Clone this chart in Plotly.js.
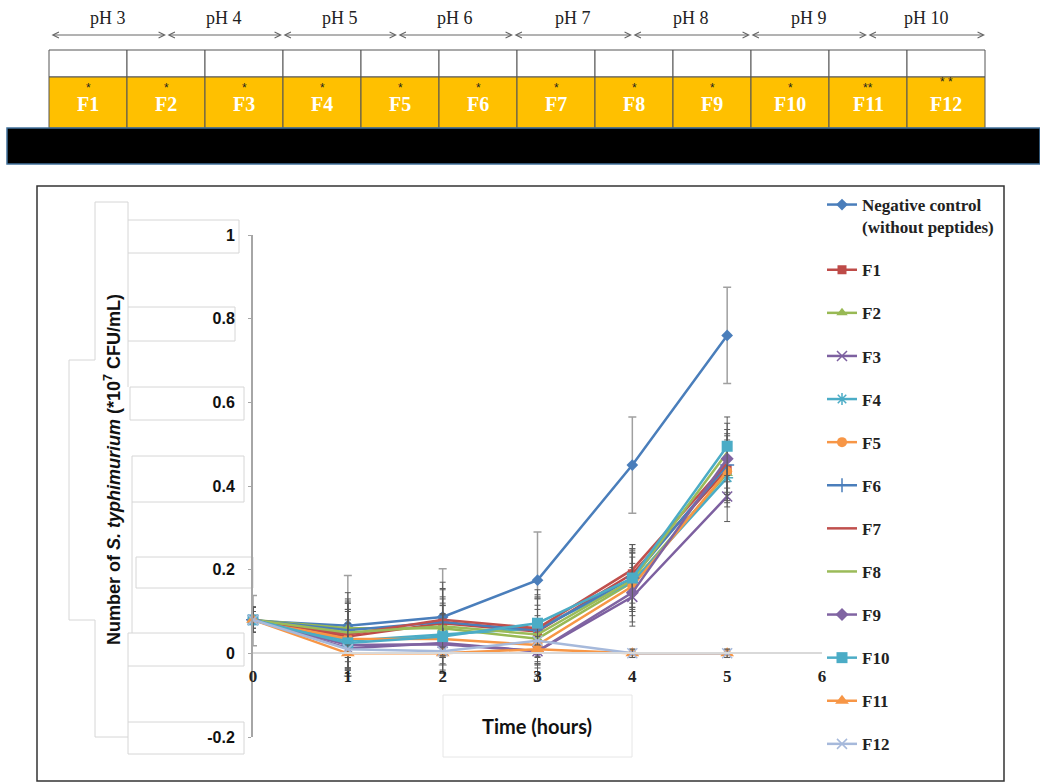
<!DOCTYPE html>
<html>
<head>
<meta charset="utf-8">
<script src="https://cdn.plot.ly/plotly-3.0.1.min.js"></script>
<style>
  html, body { margin: 0; padding: 0; background: #fff; }
  #chart { width: 1040px; height: 783px; }
</style>
</head>
<body>
<div id="chart"></div>
<script>
// ---- Data ----
const hours = [0, 1, 2, 3, 4, 5];

const negControl = [0.078, 0.066, 0.087, 0.175, 0.45, 0.76];
const f1  = [0.08, 0.04, 0.072, 0.052, 0.19, 0.44];
const f2  = [0.08, 0.06, 0.06, 0.035, 0.17, 0.43];
const f3  = [0.08, 0.012, 0.025, 0.005, 0.135, 0.375];
const f4  = [0.08, 0.03, 0.045, 0.06, 0.17, 0.42];
const f5  = [0.08, 0.035, 0.034, 0.02, 0.16, 0.435];
const f6  = [0.08, 0.055, 0.075, 0.055, 0.18, 0.45];
const f7  = [0.08, 0.045, 0.08, 0.06, 0.2, 0.455];
const f8  = [0.08, 0.05, 0.065, 0.045, 0.175, 0.48];
const f9  = [0.08, 0.02, 0.022, 0.005, 0.145, 0.465];
const f10 = [0.08, 0.025, 0.04, 0.072, 0.18, 0.495];
const f11 = [0.08, 0.0, 0.0, 0.01, 0.0, 0.0];
const f12 = [0.08, 0.01, 0.005, 0.03, 0.0, 0.0];

const negControlErr = [0.06, 0.12, 0.115, 0.115, 0.115, 0.115];
const f1Err  = [0.03, 0.08, 0.08, 0.08, 0.07, 0.07];
const f2Err  = [0.03, 0.07, 0.07, 0.07, 0.07, 0.07];
const f3Err  = [0.03, 0.06, 0.07, 0.07, 0.07, 0.06];
const f4Err  = [0.03, 0.07, 0.07, 0.07, 0.07, 0.07];
const f5Err  = [0.03, 0.07, 0.08, 0.07, 0.07, 0.07];
const f6Err  = [0.03, 0.09, 0.08, 0.08, 0.07, 0.07];
const f7Err  = [0.03, 0.08, 0.09, 0.08, 0.06, 0.07];
const f8Err  = [0.03, 0.07, 0.07, 0.07, 0.07, 0.07];
const f9Err  = [0.03, 0.06, 0.07, 0.06, 0.07, 0.07];
const f10Err = [0.03, 0.08, 0.08, 0.08, 0.07, 0.07];
const f11Err = [0.02, 0.01, 0.01, 0.01, 0.01, 0.01];
const f12Err = [0.02, 0.01, 0.01, 0.01, 0.01, 0.01];

const seriesNames = ['Negative control<br>(without peptides)', 'F1', 'F2', 'F3', 'F4', 'F5',
                     'F6', 'F7', 'F8', 'F9', 'F10', 'F11', 'F12'];
const seriesValues = [negControl, f1, f2, f3, f4, f5, f6, f7, f8, f9, f10, f11, f12];
const seriesErrors = [negControlErr, f1Err, f2Err, f3Err, f4Err, f5Err, f6Err, f7Err, f8Err,
                      f9Err, f10Err, f11Err, f12Err];

const yTickVals = [-0.2, 0, 0.2, 0.4, 0.6, 0.8, 1];
const yTickText = ['-0.2', '0', '0.2', '0.4', '0.6', '0.8', '1'];
const xTickVals = [0, 1, 2, 3, 4, 5, 6];

// Fraction strip above the chart
const phLabels = ['pH 3', 'pH 4', 'pH 5', 'pH 6', 'pH 7', 'pH 8', 'pH 9', 'pH 10'];
const fractionLabels = ['F1', 'F2', 'F3', 'F4', 'F5', 'F6', 'F7', 'F8', 'F9', 'F10', 'F11', 'F12'];
const fractionMarks = ['*', '*', '*', '*', '*', '*', '*', '*', '*', '*', '**', '* *'];

// ---- Styles ----
const styles = [
  { color: '#4A7EBB', symbol: 'diamond', size: 9 },
  { color: '#BE4B48', symbol: 'square', size: 9 },
  { color: '#98B954', symbol: 'triangle-up', size: 10 },
  { color: '#7D60A0', symbol: 'x-thin', size: 10 },
  { color: '#4BACC6', symbol: 'asterisk', size: 10 },
  { color: '#F79646', symbol: 'circle', size: 10 },
  { color: '#4A7EBB', symbol: 'cross-thin', size: 10 },
  { color: '#C0504D', symbol: null },
  { color: '#9BBB59', symbol: null },
  { color: '#8064A2', symbol: 'diamond', size: 10 },
  { color: '#4BACC6', symbol: 'square', size: 11 },
  { color: '#F79646', symbol: 'triangle-up', size: 12 },
  { color: '#A6B9DB', symbol: 'x-thin', size: 10 }
];

const W = 1040, H = 783;
const px = x => x / W;
const py = y => 1 - y / H;

const serif = 'Liberation Serif, Times New Roman, serif';
const sans = 'Liberation Sans, Arial, sans-serif';

// ---- Traces ----
const traces = seriesValues.map((vals, i) => {
  const s = styles[i];
  const t = {
    type: 'scatter',
    x: hours,
    y: vals,
    name: seriesNames[i],
    legendgroup: 'g' + i,
    mode: s.symbol ? 'lines+markers' : 'lines',
    line: { color: s.color, width: 2.5 },
    error_y: {
      type: 'data', array: seriesErrors[i], visible: true,
      color: i === 0 ? '#a0a0a0' : '#5a5a5a',
      thickness: i === 0 ? 1.5 : 1, width: i === 0 ? 4 : 3
    },
    cliponaxis: false
  };
  if (s.symbol) {
    const thin = s.symbol.indexOf('thin') >= 0 || s.symbol === 'asterisk';
    t.marker = {
      symbol: s.symbol, size: s.size, color: s.color,
      line: { color: s.color, width: thin ? 1.5 : 0 }
    };
  }
  return t;
});

// ---- Shapes & annotations ----
const shapes = [];
const annotations = [];
const rectPx = (x0, y0, x1, y1, opts) => Object.assign({
  type: 'rect', xref: 'paper', yref: 'paper',
  x0: px(x0), x1: px(x1), y0: py(y1), y1: py(y0)
}, opts);
const pathPx = (pts, opts) => Object.assign({
  type: 'path', xref: 'paper', yref: 'paper',
  path: pts.map((p, k) => (k ? 'L' : 'M') + px(p[0]) + ',' + py(p[1])).join(' ')
}, opts);
const label = (x, y, text, font, extra) => Object.assign({
  xref: 'paper', yref: 'paper', x: px(x), y: py(y), text: text, showarrow: false,
  xanchor: 'center', yanchor: 'middle', font: font
}, extra || {});

// pH ranges with double-headed arrows
const phEdges = [50, 166, 282, 397, 513, 632, 750, 867, 985];
phLabels.forEach((lab, i) => {
  const a = phEdges[i], b = phEdges[i + 1];
  annotations.push(label((a + b) / 2, 18, lab, { family: serif, size: 18, color: '#222' }));
  annotations.push({
    xref: 'paper', yref: 'paper', x: px(b), y: py(35),
    ax: -(b - a), ay: 0, text: '', showarrow: true,
    arrowside: 'end+start', arrowhead: 5, startarrowhead: 5,
    arrowsize: 1.2, startarrowsize: 1.2, arrowwidth: 1, arrowcolor: '#666',
    standoff: 0, startstandoff: 0
  });
});

// Fraction boxes
const colX0 = 49, colW = 78;
fractionLabels.forEach((lab, i) => {
  const x0 = colX0 + i * colW, x1 = x0 + colW;
  shapes.push(rectPx(x0, 50, x1, 77, { fillcolor: '#ffffff', line: { color: '#555', width: 1 } }));
  shapes.push(rectPx(x0, 77, x1, 128, { fillcolor: '#FFC000', line: { color: '#555', width: 1 } }));
  annotations.push(label(x0 + colW / 2, 104, '<b>' + lab + '</b>',
    { family: serif, size: 20, color: '#ffffff' }));
  annotations.push(label(x0 + colW / 2, i === 11 ? 82 : 88, fractionMarks[i],
    { family: sans, size: 12, color: '#222' }));
});

// Black band
shapes.push(rectPx(7, 128, 1040, 164, { fillcolor: '#000000', line: { color: '#41719C', width: 1.5 } }));

// Chart frame
shapes.push(rectPx(37, 186, 1004, 781, { line: { color: '#333', width: 1.5 }, layer: 'below' }));

// Boxes behind the y-axis labels
const boxLine = { color: '#d6d6d6', width: 1 };
[[128, 220, 239, 253], [128, 307, 235, 341], [130, 387, 244, 420], [132, 456, 244, 502],
 [136, 557, 253, 588], [128, 633, 244, 666], [128, 722, 244, 754]].forEach(b => {
  shapes.push(rectPx(b[0], b[1], b[2], b[3], { fillcolor: '#ffffff', line: boxLine, layer: 'below' }));
});
shapes.push(pathPx([[128, 220], [128, 202], [95, 202], [95, 360], [69, 360], [69, 620], [95, 620],
                    [95, 737], [128, 737]], { line: boxLine, layer: 'below' }));
shapes.push(pathPx([[128, 253], [128, 307]], { line: boxLine, layer: 'below' }));
shapes.push(pathPx([[128, 341], [128, 387]], { line: boxLine, layer: 'below' }));
shapes.push(pathPx([[132, 502], [132, 633]], { line: boxLine, layer: 'below' }));
shapes.push(pathPx([[128, 666], [128, 722]], { line: boxLine, layer: 'below' }));

// Box behind the x-axis title
shapes.push(rectPx(443, 695, 632, 757, { fillcolor: '#ffffff', line: { color: '#e6e6e6', width: 1 }, layer: 'below' }));

annotations.push(label(537, 726, '<b>Time (hours)</b>',
  { family: 'Lato, Open Sans, sans-serif', size: 20, color: '#111' }));
annotations.push(label(112, 470, '<b>Number of <i>S. typhimurium</i> (*10<sup>7</sup> CFU/mL)</b>',
  { family: sans, size: 18, color: '#111' }, { textangle: -90 }));

const layout = {
  width: W, height: H,
  margin: { l: 0, r: 0, t: 0, b: 0, autoexpand: false },
  paper_bgcolor: '#ffffff', plot_bgcolor: 'rgba(0,0,0,0)',
  showlegend: true,
  legend: {
    x: px(822), xanchor: 'left', y: py(187), yanchor: 'top',
    traceorder: 'grouped', tracegroupgap: 18, valign: 'top',
    bgcolor: 'rgba(0,0,0,0)', borderwidth: 0,
    font: { family: serif, size: 17, color: '#222', weight: 700 }
  },
  xaxis: {
    domain: [px(253), px(822)], range: [0, 6],
    anchor: 'free', position: py(652),
    tickvals: xTickVals, ticks: '', showgrid: false, zeroline: false,
    showline: true, linecolor: '#d9d9d9', linewidth: 1.5,
    ticklabelstandoff: 8,
    tickfont: { family: serif, size: 17, color: '#222', weight: 700 }
  },
  yaxis: {
    domain: [py(737), py(235)], range: [-0.2, 1],
    tickvals: yTickVals, ticktext: yTickText, showgrid: false, zeroline: false,
    showline: true, linecolor: '#a6a6a6', linewidth: 2,
    ticks: 'outside', ticklen: 3, tickcolor: '#a6a6a6',
    ticklabelstandoff: 10,
    tickfont: { family: sans, size: 16, color: '#111', weight: 700 }
  },
  shapes: shapes,
  annotations: annotations
};

Plotly.newPlot('chart', traces, layout, { displayModeBar: false, staticPlot: true });
</script>
</body>
</html>
